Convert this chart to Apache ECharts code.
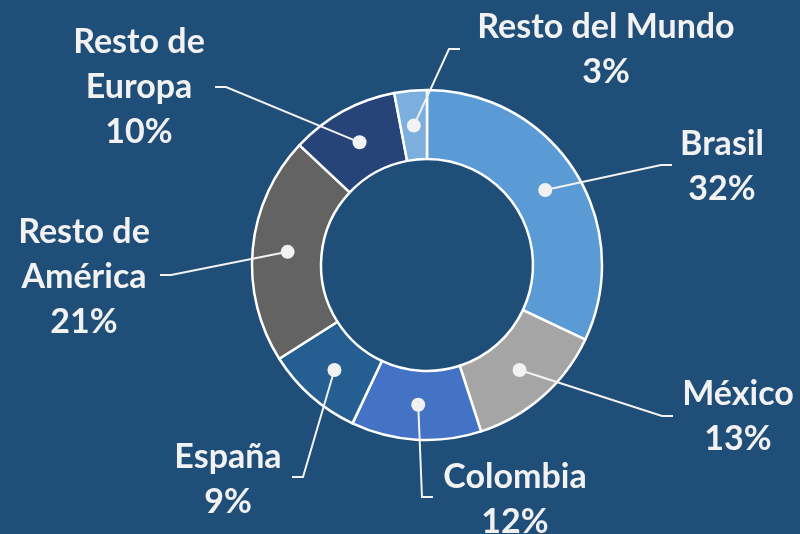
<!DOCTYPE html>
<html>
<head>
<meta charset="utf-8">
<title>Distribución</title>
<script src="https://cdn.jsdelivr.net/npm/echarts@6/dist/echarts.min.js"></script>
<style>
  html, body { margin: 0; padding: 0; background: #1F4E79; }
  #main { width: 800px; height: 534px; }
</style>
</head>
<body>
<div id="main"></div>
<script>
// datos
var regiones = ['Brasil', 'México', 'Colombia', 'España', 'Resto de\nAmérica', 'Resto de\nEuropa', 'Resto del Mundo'];
var porcentajes = [32, 13, 12, 9, 21, 10, 3];
var colores = ['#5B9BD5', '#A5A5A5', '#4472C4', '#255E91', '#636363', '#264478', '#7CAFDD'];

// posicion de las etiquetas (centro del texto) y fin de la linea guia
var posEtiqueta = [[722, 167], [738, 417], [515, 500], [228, 480], [84, 277], [139, 87], [606, 50]];
var finLinea = [[672, 165], [673, 416], [433, 497], [292, 477], [160, 275], [215, 87], [460, 49]];
var lado = [1, 1, 1, -1, -1, -1, 1];

var cx = 427, cy = 265, rIn = 106, rOut = 175, rPunto = 140;

var chart = echarts.init(document.getElementById('main'));

// punto medio de cada sector (en % acumulado)
var total = porcentajes.reduce(function (a, b) { return a + b; }, 0);
var medios = [];
var acum = 0;
for (var i = 0; i < porcentajes.length; i++) {
  medios.push(acum + porcentajes[i] / 2);
  acum += porcentajes[i];
}
function puntoMedio(i) {
  var ang = medios[i] / total * Math.PI * 2;
  return [cx + rPunto * Math.sin(ang), cy - rPunto * Math.cos(ang)];
}

var datosPie = regiones.map(function (n, i) {
  return { name: n, value: porcentajes[i], itemStyle: { color: colores[i] } };
});

var option = {
  backgroundColor: '#1F4E79',
  animation: false,
  polar: { center: [cx, cy], radius: rOut },
  angleAxis: { type: 'value', min: 0, max: total, startAngle: 90, clockwise: true, show: false },
  radiusAxis: { type: 'value', min: 0, max: rOut, show: false },
  series: [
    {
      // anillo
      type: 'pie',
      z: 1,
      center: [cx, cy],
      radius: [rIn, rOut],
      startAngle: 90,
      clockwise: true,
      silent: true,
      itemStyle: { borderColor: '#FFFFFF', borderWidth: 2.5 },
      label: { show: false },
      labelLine: { show: false },
      data: datosPie
    },
    {
      // etiquetas y lineas guia encima del anillo
      type: 'pie',
      z: 3,
      center: [cx, cy],
      radius: [rIn, rOut],
      startAngle: 90,
      clockwise: true,
      silent: true,
      itemStyle: { color: 'rgba(0,0,0,0)', borderWidth: 0 },
      label: {
        show: true,
        position: 'outside',
        formatter: function (p) { return p.name + '\n' + p.value + '%'; },
        color: '#F2F2F2',
        fontFamily: 'Lato',
        fontWeight: 'bold',
        fontSize: 34,
        lineHeight: 45,
        align: 'center'
      },
      labelLine: {
        show: true,
        lineStyle: { color: '#F2F2F2', width: 2 }
      },
      labelLayout: function (params) {
        var i = params.dataIndex;
        var fin = finLinea[i];
        var codo = [fin[0] - 11 * lado[i], fin[1]];
        return {
          x: posEtiqueta[i][0],
          y: posEtiqueta[i][1],
          align: 'center',
          verticalAlign: 'middle',
          labelLinePoints: [puntoMedio(i), codo, fin]
        };
      },
      data: regiones.map(function (n, i) {
        return { name: n, value: porcentajes[i] };
      })
    },
    {
      type: 'scatter',
      coordinateSystem: 'polar',
      symbol: 'circle',
      symbolSize: 14,
      itemStyle: { color: '#F2F2F2', opacity: 1 },
      silent: true,
      z: 5,
      data: medios.map(function (m) { return [rPunto, m]; })
    }
  ]
};

chart.setOption(option);
</script>
</body>
</html>
